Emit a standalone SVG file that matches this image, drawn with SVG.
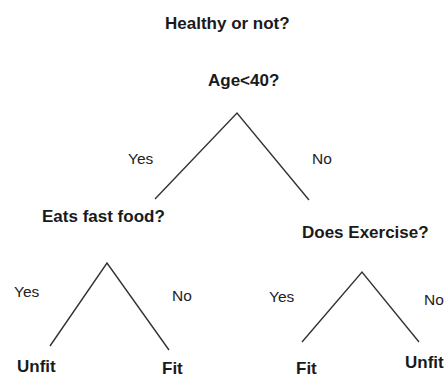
<svg xmlns="http://www.w3.org/2000/svg" width="446" height="378" viewBox="0 0 446 378">
<style>
.n{font-family:"Liberation Sans",Arial,sans-serif;font-weight:bold;font-size:17px;fill:#1a1a1a}
.l{font-family:"Liberation Sans",Arial,sans-serif;font-size:15.5px;fill:#222}
.e{stroke:#333;stroke-width:1.4;fill:none}
</style>
<rect width="446" height="378" fill="#fff"/>
<g id="title"><text class="n" x="165" y="29">Healthy or not?</text></g>
<g id="node-age"><text class="n" x="208" y="86">Age&lt;40?</text></g>
<g id="node-fastfood"><text class="n" x="42" y="222">Eats fast food?</text></g>
<g id="node-exercise"><text class="n" x="302" y="238">Does Exercise?</text></g>
<g id="leaf-unfit-1"><text class="n" x="17" y="372">Unfit</text></g>
<g id="leaf-fit-1"><text class="n" x="162" y="374">Fit</text></g>
<g id="leaf-fit-2"><text class="n" x="296" y="374">Fit</text></g>
<g id="leaf-unfit-2"><text class="n" x="405" y="368">Unfit</text></g>
<g id="connectors">
<path class="e" d="M155 199 L237 113 L309 200"/>
<path class="e" d="M50 346 L107 263 L169 350"/>
<path class="e" d="M302 342 L362 272 L419 342"/>
<text class="l" x="128" y="164">Yes</text>
<text class="l" x="312" y="164">No</text>
<text class="l" x="14" y="297">Yes</text>
<text class="l" x="172" y="301">No</text>
<text class="l" x="269" y="302">Yes</text>
<text class="l" x="424" y="305">No</text>
</g>
</svg>
